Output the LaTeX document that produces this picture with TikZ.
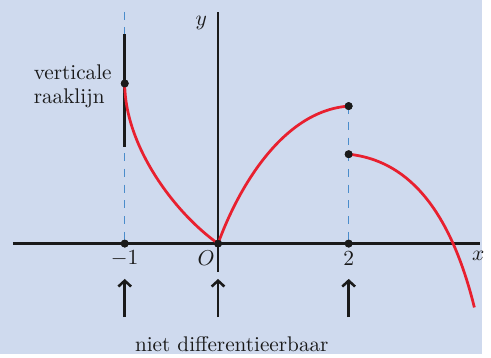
\documentclass[tikz,border=0pt]{standalone}
\usetikzlibrary{arrows.meta}
\definecolor{panel-blue}{HTML}{CFDAEE}
\definecolor{curve-red}{HTML}{E8202F}
\definecolor{guide-blue}{HTML}{4A8CCB}
\definecolor{jet}{HTML}{1A1A1A}

\begin{document}
\begin{tikzpicture}[x=0.5pt, y=0.5pt,
    every node/.style={font=\fontsize{10.8}{12.5}\selectfont, text=jet},
    dot/.style={circle, fill=jet, inner sep=0pt, minimum size=4pt},
    axis/.style={line width=1.4pt, color=jet},
    graph/.style={line width=1.4pt, color=curve-red},
    guide/.style={line width=0.6pt, color=guide-blue,
      dash pattern=on 4pt off 4pt},
    pointer/.style={line width=1.3pt, color=jet,
      -{Straight Barb[length=3pt, width=6.5pt]}}]
    \fill[panel-blue] (-222, -112) rectangle (269, 248);

    % points on the graph
    \node[dot] (pA) at (-95, 0) {};
    \node[dot] (pO) at (0, 0) {};
    \node[dot] (pB) at (133, 0) {};
    \node[dot] (pT) at (-95, 163) {};
    \node[dot] (pB1) at (133, 140) {};
    \node[dot] (pB2) at (133, 91) {};
    \coordinate (gA) at (-95, 236);
    \coordinate (t1) at (-95, 213);
    \coordinate (t2) at (-95, 98);
    \coordinate (xl) at (-209, 0);
    \coordinate (xr) at (267, 0);
    \coordinate (yb) at (0, -29);
    \coordinate (yt) at (0, 236);
    \coordinate (end) at (261, -65);

    \draw[guide] (gA) -- (pA.center);
    \draw[guide] (pB1.center) -- (pB.center);
    \draw[axis] (xl) -- (xr);
    \draw[axis] (yb) -- (yt);
    \draw[axis] (t1) -- (t2);

    \draw[graph] (pT.center) .. controls (-95, 100) and (-45, 32) .. (pO.center);
    \draw[graph] (pO.center) .. controls (20, 55) and (65, 135) .. (pB1.center);
    \draw[graph] (pB2.center) .. controls (190, 85) and (235, 40) .. (end);

    \node[dot] at (pA) {};
    \node[dot] at (pO) {};
    \node[dot] at (pB) {};
    \node[dot] at (pT) {};
    \node[dot] at (pB1) {};
    \node[dot] at (pB2) {};

    \node (lx) at (265, -13) {$x$};
    \node (ly) at (-17, 225) {$y$};
    \node (lA) at (-95, -15) {$-1$};
    \node (lO) at (-12, -15) {$O$};
    \node (lB) at (133, -15) {$2$};
    \node[align=left] (vr) at (-148, 160) {verticale\\raaklijn};

    \coordinate (a1) at (-95, -75);
    \coordinate (a2) at (0, -75);
    \coordinate (a3) at (133, -75);
    \coordinate (h1) at (-95, -36);
    \coordinate (h2) at (0, -36);
    \coordinate (h3) at (133, -36);
    \draw[pointer] (a1) -- (h1);
    \draw[pointer] (a2) -- (h2);
    \draw[pointer] (a3) -- (h3);
    \node (nd) at (14, -102) {niet differentieerbaar};
\end{tikzpicture}
\end{document}
